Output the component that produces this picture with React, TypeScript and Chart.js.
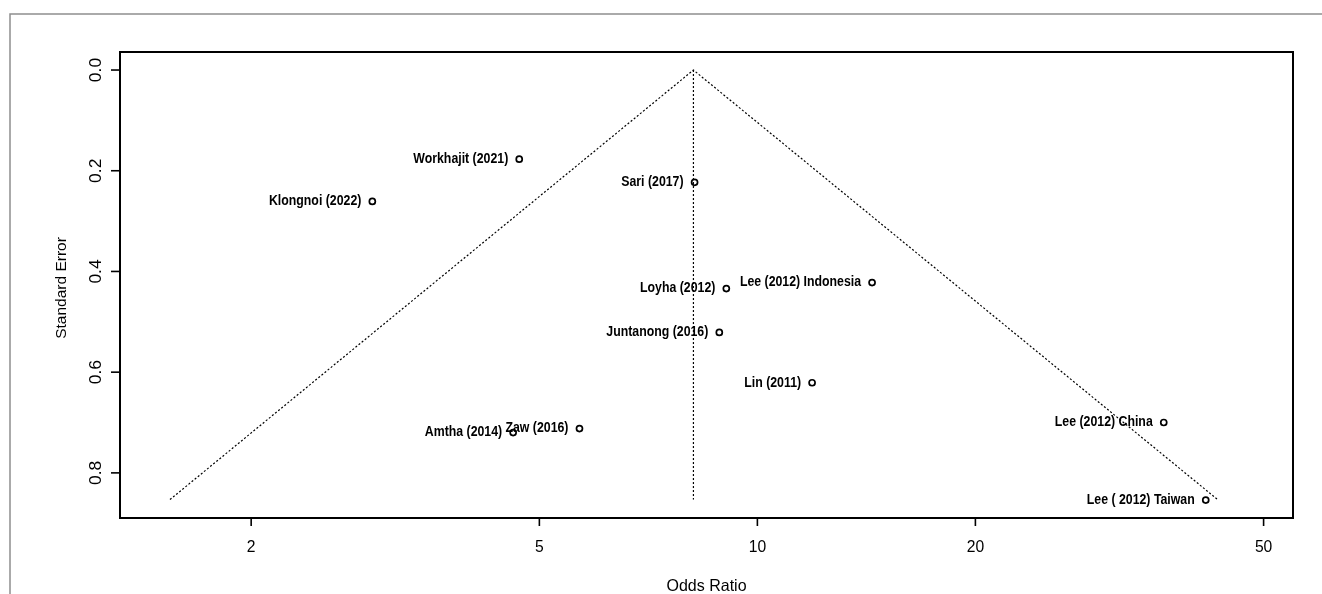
import React, { useEffect, useRef } from "react";
import { Chart, registerables } from "chart.js";

Chart.register(...registerables);

// ---- data ----
const studyLabels = [
  "Workhajit (2021)",
  "Sari (2017)",
  "Klongnoi (2022)",
  "Lee (2012) Indonesia",
  "Loyha (2012)",
  "Juntanong (2016)",
  "Lin (2011)",
  "Lee (2012) China",
  "Zaw (2016)",
  "Amtha (2014)",
  "Lee ( 2012) Taiwan",
];
const oddsRatios = [4.69, 8.19, 2.94, 14.4, 9.06, 8.86, 11.9, 36.4, 5.68, 4.6, 41.6];
const standardErrors = [0.177, 0.223, 0.261, 0.422, 0.434, 0.521, 0.621, 0.7, 0.712, 0.72, 0.854];

const funnelOR = [1.545, 8.16, 43.2];
const funnelSE = [0.853, 0, 0.853];
const pooledLineOR = [8.16, 8.16];
const pooledLineSE = [0, 0.853];

const xTicks = [2, 5, 10, 20, 50];
const xTickLabels = ["2", "5", "10", "20", "50"];
const yTicks = [0, 0.2, 0.4, 0.6, 0.8];
const yTickLabels = ["0.0", "0.2", "0.4", "0.6", "0.8"];

const xTitle = "Odds Ratio";
const yTitle = "Standard Error";

const FONT = '"Liberation Sans", Arial, sans-serif';

function drawText(
  ctx: CanvasRenderingContext2D,
  s: string,
  x: number,
  y: number,
  font: string,
  align: CanvasTextAlign,
  sx = 1,
  sy = 1,
  rot = 0
) {
  ctx.save();
  ctx.translate(x, y);
  if (rot) ctx.rotate(rot);
  ctx.scale(sx, sy);
  ctx.font = font;
  ctx.textAlign = align;
  ctx.textBaseline = "middle";
  ctx.fillStyle = "#000";
  ctx.fillText(s, 0, 0);
  ctx.restore();
}

const decorPlugin = {
  id: "decor",
  afterDraw(chart: any) {
    const ctx: CanvasRenderingContext2D = chart.ctx;
    const { left, right, top, bottom } = chart.chartArea;
    const xs = chart.scales.x;
    const ys = chart.scales.y;
    ctx.save();

    // outer grey frame of the figure
    ctx.strokeStyle = "#8f8f8f";
    ctx.lineWidth = 1.5;
    ctx.beginPath();
    ctx.moveTo(10, chart.height);
    ctx.lineTo(10, 14);
    ctx.lineTo(chart.width, 14);
    ctx.stroke();

    // plot box
    ctx.strokeStyle = "#000";
    ctx.lineWidth = 2;
    ctx.strokeRect(left, top, right - left, bottom - top);

    // x ticks
    ctx.lineWidth = 1.6;
    xTicks.forEach((v, i) => {
      const px = xs.getPixelForValue(v);
      ctx.beginPath();
      ctx.moveTo(px, bottom);
      ctx.lineTo(px, bottom + 8);
      ctx.stroke();
      drawText(ctx, xTickLabels[i], px, bottom + 29, `16.5px ${FONT}`, "center", 0.95, 1);
    });

    // y ticks
    yTicks.forEach((v, i) => {
      const py = ys.getPixelForValue(v);
      ctx.beginPath();
      ctx.moveTo(left, py);
      ctx.lineTo(left - 9, py);
      ctx.stroke();
      drawText(ctx, yTickLabels[i], left - 24, py, `17.5px ${FONT}`, "center", 1, 0.95, -Math.PI / 2);
    });

    // axis titles
    drawText(ctx, xTitle, (left + right) / 2, bottom + 68, `16.5px ${FONT}`, "center", 0.97, 1);
    drawText(ctx, yTitle, 62, (top + bottom) / 2 + 3, `15.5px ${FONT}`, "center", 1, 0.95, -Math.PI / 2);

    // study labels, placed to the left of each point
    const meta = chart.getDatasetMeta(2);
    meta.data.forEach((el: any, i: number) => {
      drawText(ctx, studyLabels[i], el.x - 11, el.y, `bold 14px ${FONT}`, "right", 0.88, 1);
    });

    ctx.restore();
  },
};

export default function App() {
  const ref = useRef<HTMLCanvasElement | null>(null);

  useEffect(() => {
    if (!ref.current) return;
    const funnel = funnelOR.map((x, i) => ({ x, y: funnelSE[i] }));
    const pooled = pooledLineOR.map((x, i) => ({ x, y: pooledLineSE[i] }));
    const studies = oddsRatios.map((x, i) => ({ x, y: standardErrors[i] }));

    const chart = new Chart(ref.current, {
      type: "scatter",
      data: {
        datasets: [
          {
            data: funnel,
            showLine: true,
            borderColor: "#000",
            borderWidth: 1.2,
            borderDash: [2, 2],
            pointRadius: 0,
          },
          {
            data: pooled,
            showLine: true,
            borderColor: "#000",
            borderWidth: 1.2,
            borderDash: [2, 2],
            pointRadius: 0,
          },
          {
            data: studies,
            showLine: false,
            pointStyle: "circle",
            pointRadius: 3,
            borderWidth: 1.7,
            borderColor: "#000",
            backgroundColor: "#fff",
          },
        ],
      },
      options: {
        responsive: false,
        animation: false,
        devicePixelRatio: 1,
        layout: { padding: { left: 120, top: 52, right: 29, bottom: 76 } },
        plugins: {
          legend: { display: false },
          tooltip: { enabled: false },
          title: { display: false },
        },
        scales: {
          x: { type: "logarithmic", min: 1.318, max: 54.9, display: false },
          y: { type: "linear", reverse: true, min: -0.0358, max: 0.8896, display: false },
        },
      },
      plugins: [decorPlugin],
    });
    return () => chart.destroy();
  }, []);

  return (
    <div style={{ position: "fixed", left: 0, top: 0, width: 1322, height: 594, background: "#fff" }}>
      <canvas ref={ref} width={1322} height={594} style={{ display: "block" }} />
    </div>
  );
}
